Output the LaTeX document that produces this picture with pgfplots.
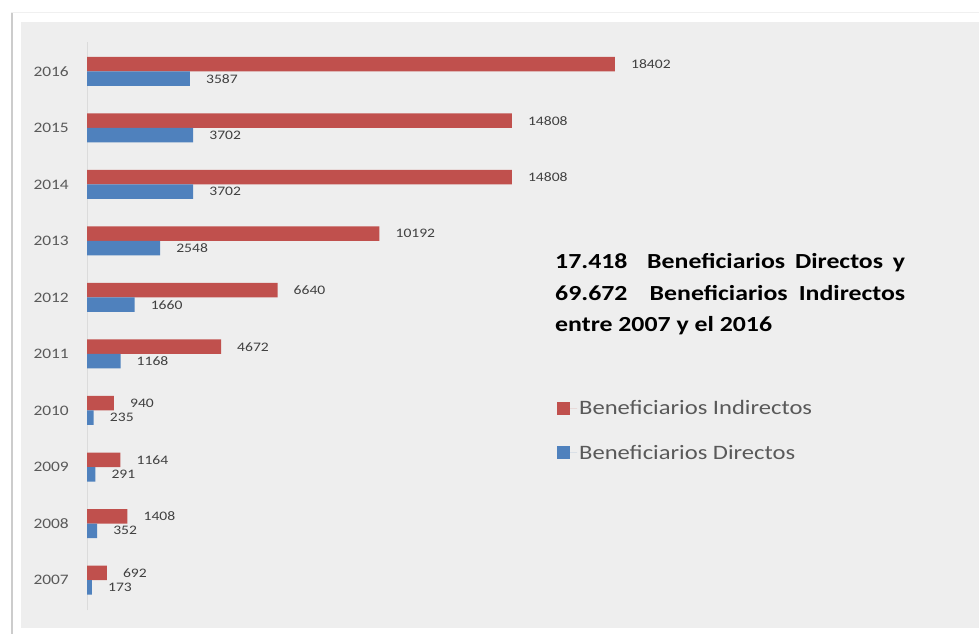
\documentclass[border=0pt]{standalone}
\usepackage{fontspec}
\setmainfont{Carlito}[FakeStretch=1.2]
\usepackage{pgfplots}
\pgfplotsset{compat=1.18}
\definecolor{cred}{HTML}{C0504D}
\definecolor{cblue}{HTML}{4F81BD}
\definecolor{panel}{HTML}{EEEEEE}
\definecolor{txt}{HTML}{595959}
\begin{document}
\begin{tikzpicture}
\fill[white] (0,0) rectangle (979bp,634bp);
\fill[panel] (21bp,6bp) rectangle (979bp,612bp);
\fill[black!20] (11bp,0bp) rectangle (13bp,622bp);
\fill[black!6] (11bp,621bp) rectangle (979bp,622bp);
\begin{axis}[
  at={(87bp,24bp)}, anchor=south west, scale only axis,
  width=860.7bp, height=568bp,
  xmin=0, xmax=30000, ymin=-0.53, ymax=9.52,
  hide x axis, axis y line*=left,
  y axis line style={draw=black!14, line width=0.8bp},
  major tick length=0pt,
  ytick={0,1,2,3,4,5,6,7,8,9},
  yticklabels={2007,2008,2009,2010,2011,2012,2013,2014,2015,2016},
  yticklabel style={font=\fontsize{14.5bp}{16bp}\selectfont, text=txt, inner sep=0pt, xshift=-18bp},
  xbar, bar width=14.5bp,
  point meta=x,
  nodes near coords={\pgfmathprintnumber[fixed,precision=0,1000 sep={},assume math mode=true]{\pgfplotspointmeta}},
  nodes near coords style={font=\fontsize{13bp}{15bp}\selectfont, text=black!75, anchor=west, inner sep=0pt, xshift=16bp},
  legend style={at={(0.546,0.373)}, anchor=north west, draw=none, fill=none,
    font=\fontsize{20.5bp}{24bp}\selectfont, text=txt, row sep=25bp, inner sep=0pt},
  legend cell align=left,
  legend image code/.code={\draw[#1,draw=none] (0bp,-6.5bp) rectangle (13bp,6.5bp); \path (0bp,0bp) -- (20bp,0bp);},
]
\addplot[fill=cred, draw=none, bar shift=7.25bp] coordinates {
  (692,0) (1408,1) (1164,2) (940,3) (4672,4) (6640,5) (10192,6) (14808,7) (14808,8) (18402,9)};
\addlegendentry{Beneficiarios Indirectos}
\addplot[fill=cblue, draw=none, bar shift=-7.25bp] coordinates {
  (173,0) (352,1) (291,2) (235,3) (1168,4) (1660,5) (2548,6) (3702,7) (3702,8) (3587,9)};
\addlegendentry{Beneficiarios Directos}
\end{axis}
\begin{scope}[font=\bfseries\fontsize{21.5bp}{26bp}\selectfont]
\node[anchor=base west, inner sep=0pt] at (555bp,365bp) {\makebox[350bp][s]{17.418\ \ Beneficiarios Directos y}};
\node[anchor=base west, inner sep=0pt] at (555bp,333.5bp) {\makebox[350bp][s]{69.672\ \ Beneficiarios Indirectos}};
\node[anchor=base west, inner sep=0pt] at (555bp,302bp) {entre 2007 y el 2016};
\end{scope}
\end{tikzpicture}
\end{document}
